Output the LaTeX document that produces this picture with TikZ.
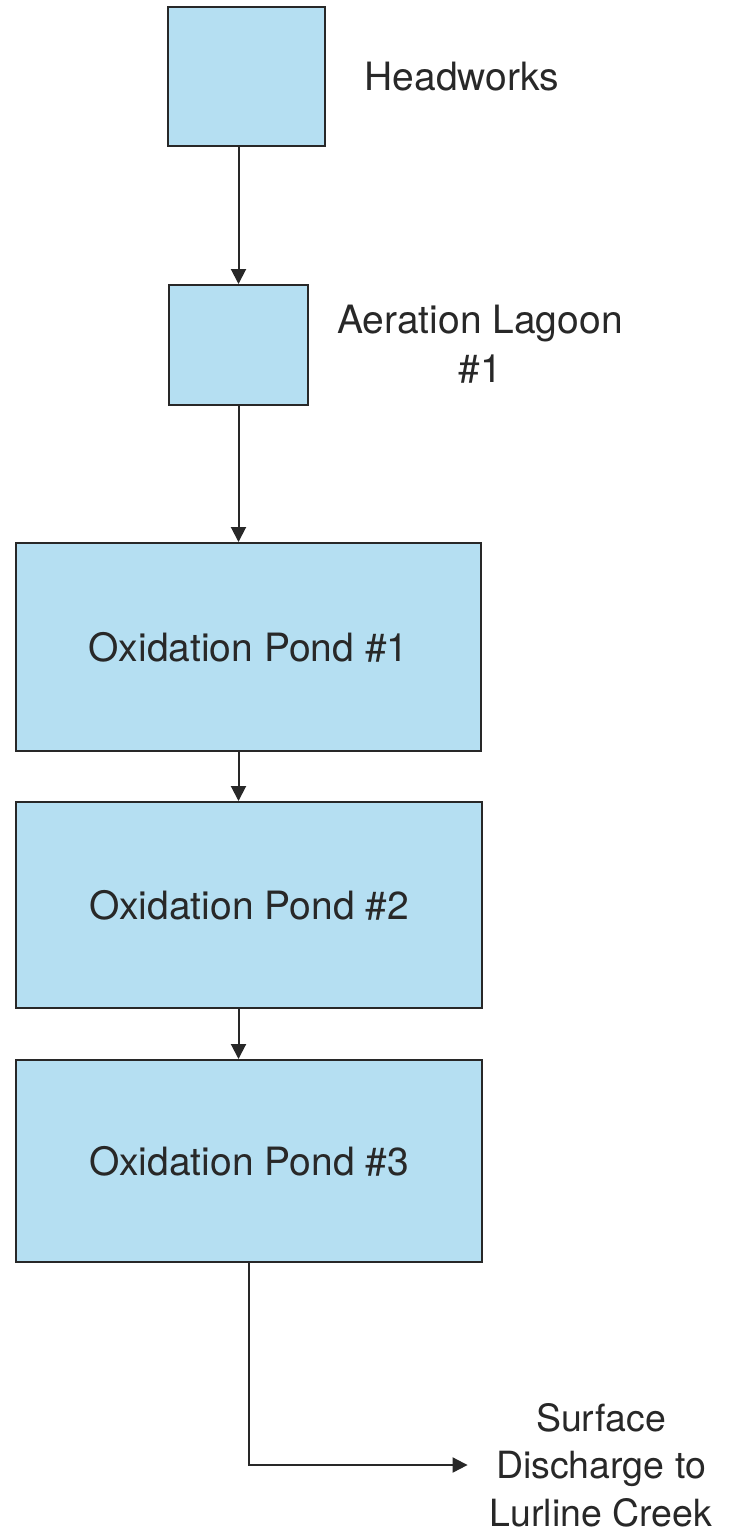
\documentclass[tikz,border=0pt]{standalone}
\usepackage{fontspec}
\setmainfont{TeX Gyre Heros}
\usepackage{xcolor}
\usepackage{tikz}
\usetikzlibrary{arrows.meta}
\definecolor{pondblue}{RGB}{181,223,242}
\definecolor{inkgray}{RGB}{40,40,40}

\begin{document}
\begin{tikzpicture}[x=1pt, y=-1pt, font=\fontsize{39}{49}\selectfont, text=inkgray]
        \useasboundingbox (0,0) rectangle (745,1532);
        \begin{scope}[every node/.style = {rectangle, draw=inkgray, line width=2pt, fill=pondblue, inner sep=0pt}]
            \node[minimum width=157pt, minimum height=139pt] (HW) at (246.5,76.5) {};
            \node[minimum width=139pt, minimum height=120pt] (AL) at (238.5,345) {};
            \node[minimum width=465pt, minimum height=208pt] (OP1) at (248.5,647) {Oxidation Pond \#1\hspace{18pt}};
            \node[minimum width=466pt, minimum height=206pt] (OP2) at (249,905) {Oxidation Pond \#2\hspace{18pt}};
            \node[minimum width=466pt, minimum height=202pt] (OP3) at (249,1161) {Oxidation Pond \#3\hspace{18pt}};
        \end{scope}
        \begin{scope}[every node/.style = {align=center, inner sep=0pt}]
            \node (HWL) at (462,77) {Headworks};
            \node (ALL) at (480,344) {Aeration Lagoon\\\#1};
            \node[font=\fontsize{37.5}{47.5}\selectfont] (SD) at (601,1465) {Surface\\Discharge to\\Lurline Creek};
        \end{scope}
        \begin{scope}[color=inkgray, line width=2pt, -{Triangle[length=15pt, width=15pt]}]
            \path (AL.north |- HW.south) edge[line width=2pt] (AL.north);
            \path (AL.south) edge[line width=2pt] (AL.south |- OP1.north);
            \path (OP1.south -| AL.south) edge[line width=2pt] (OP2.north -| AL.south);
            \path (OP2.south -| AL.south) edge[line width=2pt] (OP3.north -| AL.south);
            \draw[shorten >=22pt] (OP3.south) |- (SD.west);
        \end{scope}
    \end{tikzpicture}
\end{document}
